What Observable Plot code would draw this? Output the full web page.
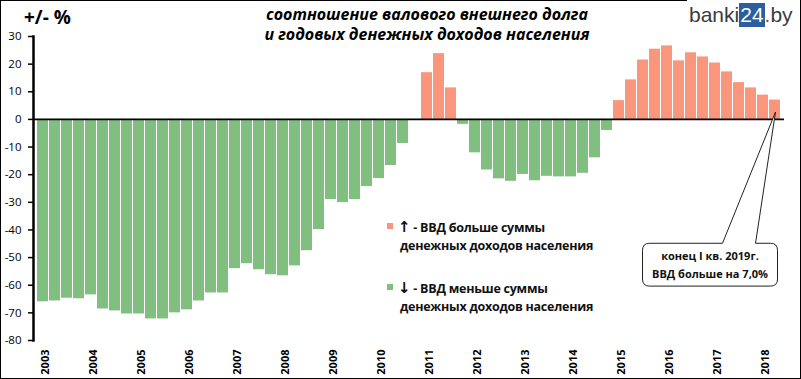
<!DOCTYPE html>
<html><head><meta charset="utf-8">
<script src="https://cdn.jsdelivr.net/npm/d3@7"></script>
<script src="https://cdn.jsdelivr.net/npm/@observablehq/plot@0.6"></script>
<style>
body{margin:0;background:#fff}
#wrap{position:relative;width:801px;height:379px;overflow:hidden;font-family:"Open Sans",sans-serif;color:#000}
#wrap svg{position:absolute;left:0;top:0}
.abs{position:absolute;white-space:nowrap}
#border{position:absolute;left:0;top:0;width:801px;height:379px;box-sizing:border-box;border:1px solid #000;border-top:none;pointer-events:none}
#topline{position:absolute;left:0;top:0;width:687px;height:1px;background:#000}
#unit{left:24px;top:4px;font-size:19px;font-weight:700}
#title{left:257px;top:4px;width:340px;text-align:center;font-size:16px;font-weight:700;font-style:italic;line-height:20px}
#logo{left:689px;top:3px;font-family:"Liberation Sans",Arial,sans-serif;font-size:21px;color:#3b3b3b;line-height:24px}
#logo .b{background:#2b5e9c;color:#fff;padding:0 1px;display:inline-block;line-height:24px}
#logo .d{color:#d9232e}
.leg{font-size:12.5px;font-weight:700;line-height:18px;color:#111;letter-spacing:-0.25px}
.leg .ar{font-family:"DejaVu Sans",sans-serif;font-size:15px;font-weight:700;line-height:15px}
.sq{position:absolute;width:6px;height:6px}
</style></head><body>
<div id="wrap"></div>
<script>
const years = [2003,2004,2005,2006,2007,2008,2009,2010,2011,2012,2013,2014,2015,2016,2017,2018];
const quarterNames = ["Q1","Q2","Q3","Q4"];
const values = [
  -66.0,-65.7,-64.7,-64.9, -63.5,-68.6,-69.3,-70.4, -70.4,-72.2,-72.2,-70.0, -68.9,-65.7,-62.8,-62.8,
  -54.0,-52.2,-54.4,-56.2, -56.6,-53.0,-47.5,-39.9, -29.0,-30.1,-29.0,-24.3, -21.4,-16.7,-8.7,-0.4,
  16.9,23.8,11.4,-1.8, -12.1,-18.3,-21.5,-22.4, -19.9,-22.2,-20.6,-20.8, -20.8,-19.5,-13.9,-4.0,
  6.8,14.3,21.5,25.4, 26.6,21.2,24.1,22.6, 20.4,17.2,13.3,11.4, 8.8,7.0
];
const yTicks = [30,20,10,0,-10,-20,-30,-40,-50,-60,-70,-80];
const posColor = "#f9967b";
const negColor = "#80bf80";
const titleLines = ["соотношение валового внешнего долга","и годовых денежных доходов населения"];
const legendPos = ["↑"," - ВВД больше суммы","денежных доходов населения"];
const legendNeg = ["↓"," - ВВД меньше суммы","денежных доходов населения"];
const noteLines = ["конец I кв. 2019г.","ВВД больше на 7,0%"];

const categories = [];
years.forEach(y => quarterNames.forEach(q => categories.push(y + " " + q)));
const cats = categories.slice(0, values.length);
const data = cats.map((c,i) => ({cat:c, v:values[i]}));
const yearTicks = cats.filter(c => c.endsWith("Q1"));

const plot = Plot.plot({
  width: 801, height: 379,
  marginLeft: 33, marginRight: 17, marginTop: 36, marginBottom: 39,
  style: {fontFamily: "'Open Sans', sans-serif", fontSize: "11.5px", color: "#000", background: "transparent"},
  x: {type: "band", domain: cats, paddingInner: 0.12, paddingOuter: 0.03, axis: null},
  y: {domain: [-80, 30], axis: null},
  color: {type: "identity"},
  marks: [
    Plot.barY(data, {x: "cat", y: "v", fill: d => d.v >= 0 ? posColor : negColor}),
    Plot.ruleY([0], {stroke: "#000", strokeWidth: 1.6}),
    Plot.frame({anchor: "left", stroke: "#000", strokeWidth: 2.5}),
    Plot.axisY({ticks: yTicks, label: null, tickSize: 5, tickPadding: 7, strokeWidth: 1.5, tickFormat: d => String(d)}),
    Plot.axisX({ticks: yearTicks, label: null, tickFormat: d => d.slice(0,4), tickRotate: -90, tickSize: 0, tickPadding: 9, fontWeight: "bold", fontSize: 11, dx: 2})
  ]
});
const wrap = document.getElementById("wrap");
wrap.appendChild(plot);

// callout annotation anchored on the scales
const xs = plot.scale("x"), ys = plot.scale("y");
const last = cats[cats.length-1];
const tipX = xs.apply(last) + xs.bandwidth/2 + 1;
const tipY = ys.apply(2.5);
const boxR = tipX + 2, boxL = tipX - 133, boxT = ys.apply(-45), boxB = ys.apply(-60.5);
const svg = d3.select(plot);
const g = svg.append("g");
g.append("path")
  .attr("d", `M${boxL+7},${boxT} L${tipX-53},${boxT} L${tipX},${tipY} L${tipX-20},${boxT} L${boxR-7},${boxT} Q${boxR},${boxT} ${boxR},${boxT+7} L${boxR},${boxB-7} Q${boxR},${boxB} ${boxR-7},${boxB} L${boxL+7},${boxB} Q${boxL},${boxB} ${boxL},${boxB-7} L${boxL},${boxT+7} Q${boxL},${boxT} ${boxL+7},${boxT} Z`)
  .attr("fill", "#fff").attr("stroke", "#222").attr("stroke-width", 1);
noteLines.forEach((t,i) => {
  g.append("text").attr("x", (boxL+boxR)/2).attr("y", boxT + 17 + i*18)
    .attr("text-anchor", "middle").attr("font-size", 11).attr("font-weight", 700)
    .attr("font-family", "'Open Sans', sans-serif").attr("fill", "#111").text(t);
});

function addDiv(id, cls, html, style) {
  const d = document.createElement("div");
  if (id) d.id = id;
  d.className = "abs " + (cls||"");
  d.innerHTML = html;
  if (style) Object.assign(d.style, style);
  wrap.appendChild(d);
  return d;
}
addDiv("unit", "", "+/- %");
addDiv("title", "", titleLines.join("<br>"));
addDiv("logo", "", 'banki<span class="b">24</span><span class="d">.</span>by');
const legHtml = L => '<span class="ar">' + L[0] + '</span>' + L[1] + '<br><span style="margin-left:2px">' + L[2] + '</span>';
addDiv(null, "leg", legHtml(legendPos), {left:"398px", top:"219px"});
addDiv(null, "leg", legHtml(legendNeg), {left:"398px", top:"280px"});
const s1 = document.createElement("div"); s1.className="sq"; Object.assign(s1.style,{left:"387px",top:"223px",background:posColor}); wrap.appendChild(s1);
const s2 = document.createElement("div"); s2.className="sq"; Object.assign(s2.style,{left:"387px",top:"284px",background:negColor}); wrap.appendChild(s2);
const b = document.createElement("div"); b.id="border"; wrap.appendChild(b);
const tl = document.createElement("div"); tl.id="topline"; wrap.appendChild(tl);
</script>
</body></html>
